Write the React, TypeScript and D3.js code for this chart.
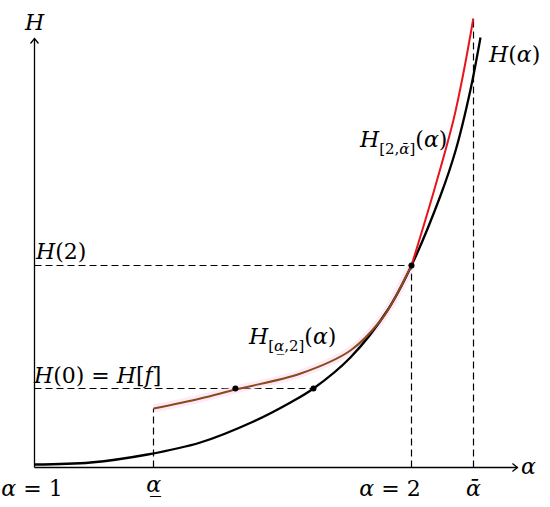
import React from "react";
import * as d3 from "d3";

// Black curve H(alpha)
const blackAlpha = [1.0, 1.149, 1.3, 1.44, 1.581, 1.679, 1.74, 1.838, 1.936, 2.0, 2.077, 2.117, 2.156, 2.183];
const blackH = [0.03, 0.05, 0.13, 0.25, 0.46, 0.65, 0.79, 1.1, 1.57, 2.02, 2.72, 3.17, 3.77, 4.3];

// Brown curve H_[alpha_,2](alpha)
const brownAlpha = [1.316, 1.44, 1.533, 1.706, 1.838, 1.918, 1.952, 2.0];
const brownH = [0.59, 0.69, 0.78, 0.94, 1.17, 1.47, 1.67, 2.02];

// Red curve H_[2,alpha-bar](alpha)
const redAlpha = [2.0, 2.056, 2.111, 2.138, 2.164];
const redH = [2.02, 2.72, 3.47, 3.95, 4.49];

// Key values
const alphaLow = 1.316;
const alphaTwo = 2.0;
const alphaHigh = 2.164;
const alphaMin = 1.0;
const alphaAxisEnd = 2.281;
const hAxisEnd = 4.29;
const hTwo = 2.02;
const hZero = 0.79;
const dotAlphas = [1.533, 1.74];

const W = 550;
const HGT = 507;

export default function App() {
  const x = d3.scaleLinear().domain([1, 2]).range([34.5, 411.5]);
  const y = d3.scaleLinear().domain([0, 1]).range([467.5, 367.5]);

  const line = d3
    .line<[number, number]>()
    .x((d) => x(d[0]))
    .y((d) => y(d[1]))
    .curve(d3.curveCatmullRom.alpha(0.5));

  const black = line(blackAlpha.map((a, i) => [a, blackH[i]]))!;
  const brown = line(brownAlpha.map((a, i) => [a, brownH[i]]))!;
  const red = line(redAlpha.map((a, i) => [a, redH[i]]))!;

  const x0 = x(alphaMin);
  const y0 = y(0);
  const xEnd = x(alphaAxisEnd);
  const yEnd = y(hAxisEnd);
  const r = (v: number) => Math.round(v - 0.5) + 0.5;

  const dash = "7,4";
  const serif = "'DejaVu Serif', serif";
  const fs = 22;
  const sub = 15;
  const al = "\u03b1";
  const alBar = "\u03b1\u0304";
  const alUnder = "\u03b1\u0332";

  return (
    <svg width={W} height={HGT} style={{ position: "absolute", left: 0, top: 0, background: "#fff" }}>
      {/* dashed guides */}
      <g stroke="#000" strokeWidth={1.2} strokeDasharray={dash} fill="none">
        <line x1={x0} y1={r(y(hTwo))} x2={x(alphaTwo)} y2={r(y(hTwo))} />
        <line x1={x0} y1={r(y(hZero))} x2={x(dotAlphas[1])} y2={r(y(hZero))} />
        <line x1={r(x(alphaLow))} y1={y0} x2={r(x(alphaLow))} y2={y(brownH[0])} />
        <line x1={r(x(alphaTwo))} y1={y0} x2={r(x(alphaTwo))} y2={y(hTwo)} />
        <line x1={r(x(alphaHigh))} y1={y0} x2={r(x(alphaHigh))} y2={y(redH[redH.length - 1])} />
      </g>

      {/* axes */}
      <g stroke="#000" strokeWidth={1.3} fill="none">
        <line x1={x0} y1={y0} x2={xEnd} y2={y0} />
        <line x1={x0} y1={y0} x2={x0} y2={yEnd} />
        <path d={`M${xEnd - 5},${y0 - 4} L${xEnd},${y0} L${xEnd - 5},${y0 + 4}`} />
        <path d={`M${x0 - 4},${yEnd + 5} L${x0},${yEnd} L${x0 + 4},${yEnd + 5}`} />
      </g>

      {/* curves */}
      <path d={brown} stroke="#f7cdea" strokeOpacity={0.4} strokeWidth={8} fill="none" />
      <path d={black} stroke="#000" strokeWidth={2.3} fill="none" />
      <path d={red} stroke="#e8141b" strokeWidth={2} fill="none" />
      <path d={brown} stroke="#8a4a1c" strokeWidth={2} fill="none" />

      {/* dots */}
      {dotAlphas.map((a) => (
        <circle key={a} cx={x(a)} cy={y(hZero)} r={3} fill="#000" />
      ))}
      <circle cx={x(alphaTwo)} cy={y(hTwo)} r={3} fill="#000" />

      {/* labels */}
      <g fontFamily={serif} fontSize={fs} fill="#000">
        <text x={x0} y={30} textAnchor="middle" fontStyle="italic">H</text>
        <text x={521} y={474} fontStyle="italic">{al}</text>

        <text x={489} y={62}>
          <tspan fontStyle="italic">H</tspan>(<tspan fontStyle="italic">{al}</tspan>)
        </text>

        <text x={36} y={259}>
          <tspan fontStyle="italic">H</tspan>(2)
        </text>
        <text x={34} y={383}>
          <tspan fontStyle="italic">H</tspan>(0) = <tspan fontStyle="italic">H</tspan>[<tspan fontStyle="italic">f</tspan>]
        </text>

        <text x={360} y={147}>
          <tspan fontStyle="italic">H</tspan>
          <tspan fontSize={sub} dy={7}>[2,<tspan fontStyle="italic">{alBar}</tspan>]</tspan>
          <tspan dy={-7}>(</tspan><tspan fontStyle="italic">{al}</tspan>)
        </text>

        <text x={249} y={344}>
          <tspan fontStyle="italic">H</tspan>
          <tspan fontSize={sub} dy={7}>[<tspan fontStyle="italic">{alUnder}</tspan>,2]</tspan>
          <tspan dy={-7}>(</tspan><tspan fontStyle="italic">{al}</tspan>)
        </text>

        <text x={32} y={496} textAnchor="middle">
          <tspan fontStyle="italic">{al}</tspan> = 1
        </text>
        <text x={x(alphaLow)} y={492} textAnchor="middle" fontStyle="italic">{alUnder}</text>
        <text x={390} y={496} textAnchor="middle">
          <tspan fontStyle="italic">{al}</tspan> = 2
        </text>
        <text x={x(alphaHigh)} y={496} textAnchor="middle" fontStyle="italic">{alBar}</text>
      </g>
    </svg>
  );
}
